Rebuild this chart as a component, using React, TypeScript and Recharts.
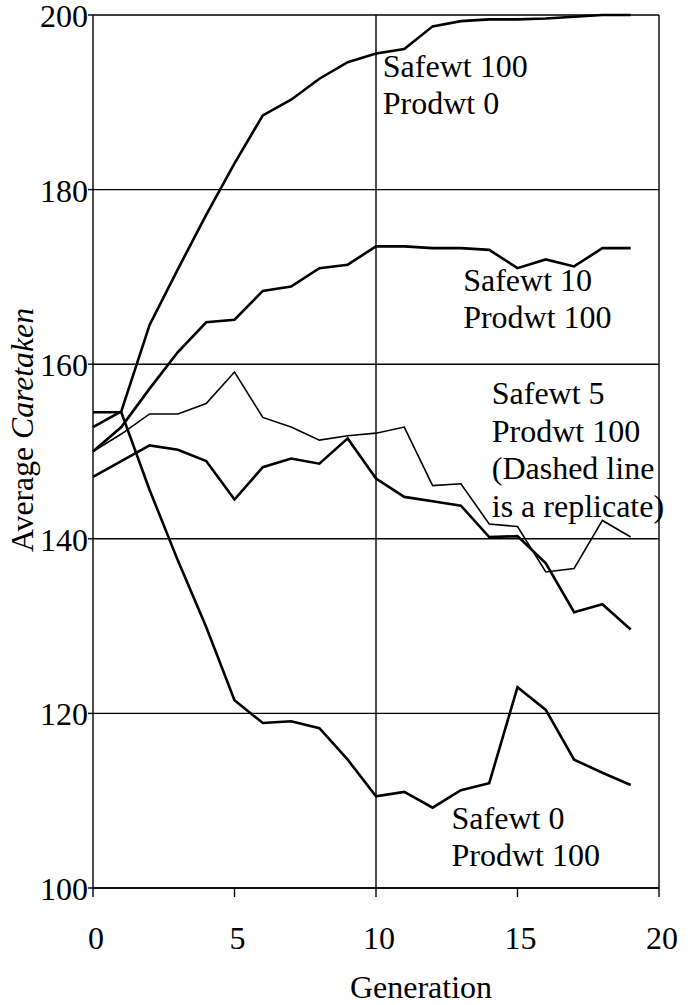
import React from "react";
import { LineChart, Line, XAxis, YAxis, CartesianGrid, ReferenceLine, ReferenceDot } from "recharts";

const generations = [0, 1, 2, 3, 4, 5, 6, 7, 8, 9, 10, 11, 12, 13, 14, 15, 16, 17, 18, 19];
const safe100prod0 = [152.8, 154.6, 164.5, 170.9, 177.1, 183.0, 188.5, 190.3, 192.7, 194.6, 195.6, 196.1, 198.7, 199.3, 199.5, 199.5, 199.6, 199.8, 200, 200];
const safe10prod100 = [150.0, 152.8, 157.2, 161.4, 164.8, 165.1, 168.4, 168.9, 171.0, 171.4, 173.5, 173.5, 173.3, 173.3, 173.1, 171.0, 172.0, 171.2, 173.3, 173.3];
const safe5prod100 = [147.1, 148.9, 150.7, 150.2, 148.9, 144.5, 148.2, 149.2, 148.6, 151.5, 146.9, 144.8, 144.3, 143.8, 140.2, 140.3, 137.2, 131.6, 132.5, 129.6];
const safe5replicate = [150.0, 152.0, 154.3, 154.3, 155.5, 159.1, 153.9, 152.8, 151.3, 151.8, 152.1, 152.8, 146.1, 146.3, 141.7, 141.4, 136.2, 136.6, 142.1, 140.2];
const safe0prod100 = [154.5, 154.5, 145.6, 137.5, 129.9, 121.5, 118.9, 119.1, 118.3, 114.7, 110.5, 111.0, 109.2, 111.2, 112.0, 123.0, 120.4, 114.7, 113.2, 111.8];

const xTicks = [0, 5, 10, 15, 20];
const yTicks = [100, 120, 140, 160, 180, 200];

const annotations = [
  { x: 10.24, y: 192.9, lines: ["Safewt 100", "Prodwt 0"] },
  { x: 13.08, y: 168.4, lines: ["Safewt 10", "Prodwt 100"] },
  { x: 14.09, y: 155.4, lines: ["Safewt 5", "Prodwt 100", "(Dashed line", "is a replicate)"] },
  { x: 12.67, y: 106.8, lines: ["Safewt 0", "Prodwt 100"] },
];

const data = generations.map((g, i) => ({
  gen: g,
  s100: safe100prod0[i],
  s10: safe10prod100[i],
  s5: safe5prod100[i],
  s5r: safe5replicate[i],
  s0: safe0prod100[i],
}));

const FONT = "'Liberation Serif', 'Times New Roman', serif";

const XTick = (props: any) => {
  const { x, y, payload } = props;
  return (
    <text x={x + 3} y={y + 50} textAnchor="middle" fontFamily={FONT} fontSize={32} fill="#000">
      {payload.value}
    </text>
  );
};

const YTick = (props: any) => {
  const { x, y, payload } = props;
  return (
    <text x={x + 2} y={y + 12} textAnchor="end" fontFamily={FONT} fontSize={32} fill="#000">
      {payload.value}
    </text>
  );
};

const XLabel = (props: any) => {
  const vb = props.viewBox;
  return (
    <text x={vb.x + vb.width / 2 + 45} y={998} textAnchor="middle" fontFamily={FONT} fontSize={32} fill="#000">
      Generation
    </text>
  );
};

const YLabel = () => {
  const cx = 33;
  const cy = 430;
  return (
    <text
      x={cx}
      y={cy}
      transform={`rotate(-90, ${cx}, ${cy})`}
      textAnchor="middle"
      fontFamily={FONT}
      fontSize={32}
      fill="#000"
      textLength={244}
      lengthAdjust="spacingAndGlyphs"
    >
      <tspan>Average </tspan>
      <tspan fontStyle="italic">Caretaken</tspan>
    </text>
  );
};

const makeNote = (lines: string[]) => (props: any) => {
  const { cx, cy } = props;
  return (
    <text x={cx} y={cy} fontFamily={FONT} fontSize={32} fill="#000">
      {lines.map((l, i) => (
        <tspan key={i} x={cx} dy={i === 0 ? 0 : 37.5}>
          {l}
        </tspan>
      ))}
    </text>
  );
};

export default function App() {
  return (
    <div style={{ position: "absolute", left: 0, top: 0, background: "#fff" }}>
      <LineChart width={691} height={1005} data={data} margin={{ top: 15, right: 32, bottom: 0, left: 13 }}>
        <CartesianGrid vertical={false} stroke="#000" strokeWidth={1.4} />
        <ReferenceLine x={10} stroke="#000" strokeWidth={1.4} />
        <ReferenceLine x={20} stroke="#000" strokeWidth={1.4} />
        <XAxis
          dataKey="gen"
          type="number"
          domain={[0, 20]}
          ticks={xTicks}
          interval={0}
          tickSize={9}
          height={117}
          axisLine={{ stroke: "#000", strokeWidth: 1.4 }}
          tickLine={{ stroke: "#000", strokeWidth: 1.4 }}
          tick={<XTick />}
          label={<XLabel />}
        />
        <YAxis
          type="number"
          domain={[100, 200]}
          ticks={yTicks}
          interval={0}
          width={80}
          tickSize={5}
          axisLine={{ stroke: "#000", strokeWidth: 1.4 }}
          tickLine={{ stroke: "#000", strokeWidth: 1.4 }}
          tick={<YTick />}
          label={<YLabel />}
        />
        <Line dataKey="s100" stroke="#000" strokeWidth={2.6} dot={false} isAnimationActive={false} />
        <Line dataKey="s10" stroke="#000" strokeWidth={2.6} dot={false} isAnimationActive={false} />
        <Line dataKey="s5r" stroke="#000" strokeWidth={1.6} dot={false} isAnimationActive={false} />
        <Line dataKey="s5" stroke="#000" strokeWidth={2.6} dot={false} isAnimationActive={false} />
        <Line dataKey="s0" stroke="#000" strokeWidth={2.6} dot={false} isAnimationActive={false} />
        {annotations.map((a, i) => (
          <ReferenceDot key={i} x={a.x} y={a.y} r={0} shape={makeNote(a.lines)} />
        ))}
      </LineChart>
    </div>
  );
}
